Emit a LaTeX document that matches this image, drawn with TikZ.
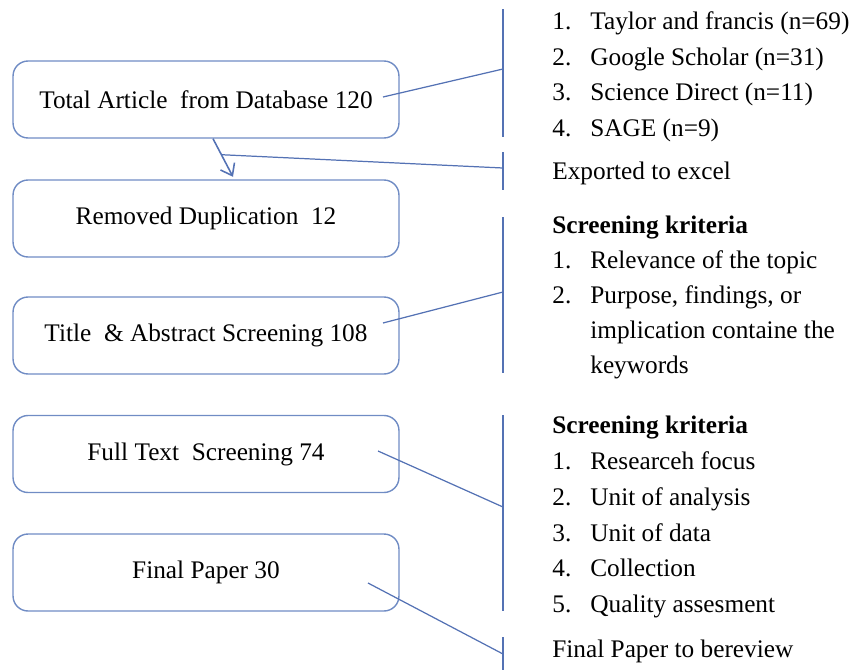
\documentclass[tikz,border=0pt]{standalone}
\usepackage{fontspec}
\setmainfont{Liberation Serif}
\usetikzlibrary{arrows.meta}
\definecolor{lineblue}{RGB}{84,114,180}
\definecolor{boxblue}{RGB}{112,140,196}
\begin{document}
\begin{tikzpicture}[x=0.02cm,y=-0.02cm,
    stage/.style={draw=boxblue,line width=0.8pt,rounded corners=0.3cm,
      minimum width=7.72cm,minimum height=1.54cm,inner sep=0pt,
      font=\fontsize{14.4}{17}\selectfont},
    txt/.style={anchor=base west,inner sep=0pt,font=\fontsize{14.4}{17}\selectfont},
    link/.style={draw=lineblue,line width=0.7pt}]
    \useasboundingbox (0,0) rectangle (856,670);
    % stages on the left
    \node[stage] (tot) at (206,99.5) {Total Article \ from Database 120};
    \node[stage] (dup) at (206,218.5) {Removed Duplication \ 12};
    \node[stage] (tas) at (206,335.5) {Title \ \& Abstract Screening 108};
    \node[stage] (fts) at (206,454) {Full Text \ Screening 74};
    \node[stage] (fin) at (206,572.5) {Final Paper 30};
    % brackets
    \draw[link] (503,9) -- (503,137);
    \draw[link] (503,152) -- (503,190);
    \draw[link] (503,217) -- (503,373);
    \draw[link] (503,415) -- (503,611);
    \draw[link] (503,637) -- (503,670);
    \coordinate (b1) at (503,69);
    \coordinate (b2) at (503,168);
    \coordinate (b3) at (503,292);
    \coordinate (b4) at (503,507);
    \coordinate (b5) at (503,654);
    % where the links leave the boxes
    \coordinate (s1) at (383,97);
    \coordinate (s3) at (383,323);
    \coordinate (s4) at (378,451);
    \coordinate (s5) at (368,583);
    \draw[link] (s1) -- (b1);
    \draw[link] (s3) -- (b3);
    \draw[link] (s4) -- (b4);
    \draw[link] (s5) -- (b5);
    % arrow between first two stages
    \coordinate (a0) at ([xshift=0.14cm]tot.south);
    \coordinate (a1) at ([xshift=0.54cm,yshift=0.05cm]dup.north);
    \draw[link,line width=0.9pt,-{Straight Barb[length=6pt,width=9pt]}] (a0) -- (a1);
    \path (a0) -- (a1) coordinate[pos=0.42] (am);
    \draw[link] (am) -- (b2);
    % texts on the right
    \foreach \y/\n/\t in {29/1./Taylor and francis (n=69),65/2./Google Scholar (n=31),
      100/3./Science Direct (n=11),136/4./SAGE (n=9),268/1./Relevance of the topic,
      303/2./{Purpose, findings, or},469/1./Researceh focus,505/2./Unit of analysis,
      541/3./Unit of data,576/4./Collection,612/5./Quality assesment}
    {
      \node[txt] (num\y) at (552,\y) {\n};
      \node[txt] (itm\y) at (590,\y) {\t};
    }
    \node[txt] (imp) at (590,338) {implication containe the};
    \node[txt] (kwd) at (590,373) {keywords};
    \node[txt] (exp) at (552,179) {Exported to excel};
    \node[txt,font=\fontsize{14.4}{17}\selectfont\bfseries] (crA) at (552,233) {Screening kriteria};
    \node[txt,font=\fontsize{14.4}{17}\selectfont\bfseries] (crB) at (552,433) {Screening kriteria};
    \node[txt] (rev) at (552,657) {Final Paper to bereview};
\end{tikzpicture}
\end{document}
